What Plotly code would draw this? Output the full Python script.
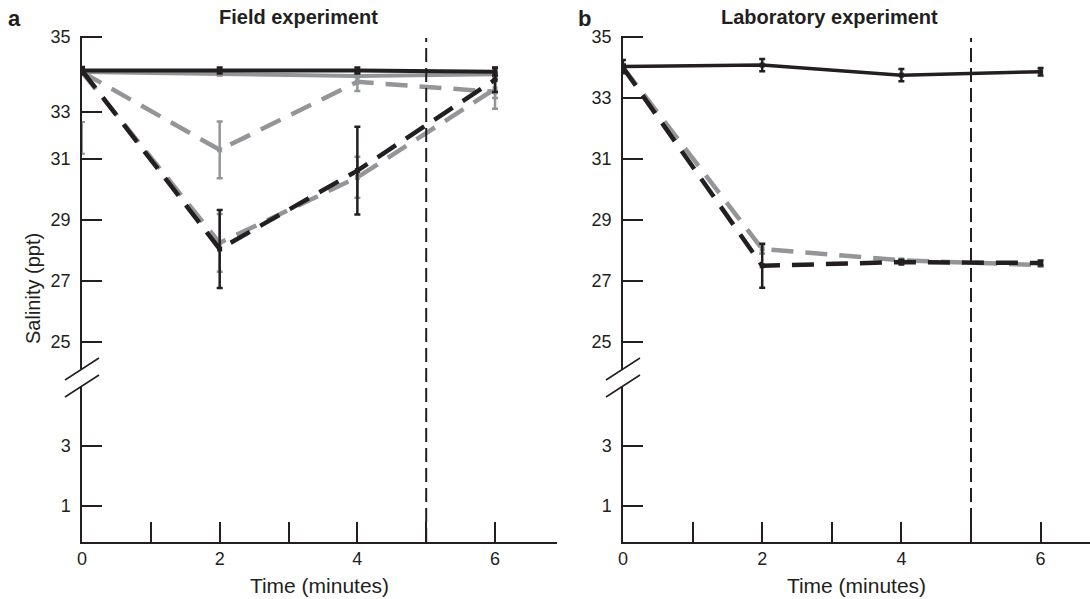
import plotly.graph_objects as go

W, H = 1090, 599
BLACK = "#231f20"
GRAY = "#939598"
FONT = "Liberation Sans, Arial, sans-serif"

# ---------------- data ----------------
time = [0, 2, 4, 6]

# Panel a: Field experiment
field_black_solid = [33.90, 33.90, 33.90, 33.86]
field_black_solid_err = [0.12, 0.10, 0.10, 0.12]
field_gray_solid = [33.85, 33.78, 33.72, 33.78]
field_gray_solid_err = [0.04, 0.04, 0.04, 0.04]
field_gray_dash_upper = [33.85, 31.30, 33.53, 33.20]
field_gray_dash_upper_err = [0.04, 0.93, 0.30, 0.55]
field_black_dash = [33.90, 28.05, 30.62, 33.60]
field_black_dash_err = [0.10, 1.28, 1.44, 0.40]
field_gray_dash_lower = [33.85, 28.25, 30.40, 33.30]
field_gray_dash_lower_err = [0.04, 0.95, 0.67, 0.30]
field_stray_time = [0]
field_stray_val = [31.69]
field_stray_err = [0.52]

# Panel b: Laboratory experiment
lab_black_solid = [34.03, 34.08, 33.75, 33.86]
lab_black_solid_err = [0.22, 0.20, 0.20, 0.12]
lab_black_dash = [34.00, 27.50, 27.62, 27.59]
lab_black_dash_err = [0.10, 0.72, 0.08, 0.08]
lab_gray_dash = [34.00, 28.05, 27.68, 27.52]
lab_gray_dash_err = [0.05, 0.15, 0.05, 0.05]

upper_ticks_a = [35, 32.55, 31, 29, 27, 25]
upper_ticks_b = [35, 33, 31, 29, 27, 25]
upper_ticktext = ["35", "33", "31", "29", "27", "25"]
lower_ticks = [1, 3]
lower_ticktext = ["1", "3"]
x_ticks = [0, 1, 2, 3, 4, 5, 6]
x_ticktext = ["0", "", "2", "", "4", "", "6"]
marker_time = 5


def px(x):
    return x / W


def py(y):
    return 1 - y / H


fig = go.Figure()


def add_series(x, y, err, color, dash, xa, ya, width=4.5):
    fig.add_trace(go.Scatter(
        x=x, y=y, mode="lines+markers", xaxis=xa, yaxis=ya,
        line=dict(color=color, width=width, dash=dash),
        marker=dict(symbol="square", size=5, color=color),
        error_y=dict(type="data", array=err, color=color, thickness=2.5, width=3),
        showlegend=False, hoverinfo="skip"))


# empty traces so the lower (broken) axis segments are drawn
for xa, ya in [("x", "y2"), ("x2", "y4")]:
    fig.add_trace(go.Scatter(x=[None], y=[None], xaxis=xa, yaxis=ya, mode="markers",
                             showlegend=False, hoverinfo="skip"))

DASH = "22px,12px"
# panel a (gray first, black on top)
fig.add_trace(go.Scatter(
    x=field_stray_time, y=field_stray_val, mode="markers", xaxis="x", yaxis="y",
    marker=dict(size=1, color="rgba(0,0,0,0)"),
    error_y=dict(type="data", array=field_stray_err, color=GRAY, thickness=2, width=3),
    showlegend=False, hoverinfo="skip"))
add_series(time, field_gray_dash_upper, field_gray_dash_upper_err, GRAY, DASH, "x", "y")
add_series(time, field_gray_dash_lower, field_gray_dash_lower_err, GRAY, DASH, "x", "y")
add_series(time, field_gray_solid, field_gray_solid_err, GRAY, "solid", "x", "y", 4)
add_series(time, field_black_dash, field_black_dash_err, BLACK, DASH, "x", "y")
add_series(time, field_black_solid, field_black_solid_err, BLACK, "solid", "x", "y", 4)

# panel b
add_series(time, lab_gray_dash, lab_gray_dash_err, GRAY, DASH, "x2", "y3")
add_series(time, lab_black_dash, lab_black_dash_err, BLACK, DASH, "x2", "y3")
add_series(time, lab_black_solid, lab_black_solid_err, BLACK, "solid", "x2", "y3", 3.5)

axis_common = dict(showline=True, linecolor=BLACK, linewidth=1.5, ticks="inside",
                   ticklen=20, tickwidth=1.5, tickcolor=BLACK, showgrid=False,
                   zeroline=False, tickfont=dict(family=FONT, size=18, color=BLACK),
                   fixedrange=True, automargin=False)

up_dom = [py(369), py(36)]
lo_dom = [py(542), py(386)]
up_range = [24.115, 35.033]
lo_range = [-0.2, 5.0]

xtitle = dict(text="Time (minutes)", font=dict(family=FONT, size=21, color=BLACK), standoff=10)

fig.update_layout(
    width=W, height=H, margin=dict(l=0, r=0, t=0, b=0, pad=0, autoexpand=False),
    paper_bgcolor="white", plot_bgcolor="white",
    xaxis=dict(domain=[px(82), px(557)], range=[0, 6.9], anchor="y2",
               tickmode="array", tickvals=x_ticks, ticktext=x_ticktext,
               ticklabelstandoff=0, title=xtitle, **axis_common),
    yaxis=dict(domain=up_dom, range=up_range, anchor="x", tickmode="array",
               tickvals=upper_ticks_a, ticktext=upper_ticktext, ticklabelstandoff=6, **axis_common),
    yaxis2=dict(domain=lo_dom, range=lo_range, anchor="x", tickmode="array",
                tickvals=lower_ticks, ticktext=lower_ticktext, ticklabelstandoff=6, **axis_common),
    xaxis2=dict(domain=[px(623), 1.0], range=[0, 6.71], anchor="y4",
                tickmode="array", tickvals=x_ticks, ticktext=x_ticktext,
                ticklabelstandoff=0, title=xtitle, **axis_common),
    yaxis3=dict(domain=up_dom, range=up_range, anchor="x2", tickmode="array",
                tickvals=upper_ticks_b, ticktext=upper_ticktext, ticklabelstandoff=6, **axis_common),
    yaxis4=dict(domain=lo_dom, range=lo_range, anchor="x2", tickmode="array",
                tickvals=lower_ticks, ticktext=lower_ticktext, ticklabelstandoff=6, **axis_common),
)

shapes = []
for ax_px, xref in [(82, "x"), (623, "x2")]:
    for yc in (369, 386):
        shapes.append(dict(type="line", xref="paper", yref="paper",
                           x0=px(ax_px - 17), y0=py(yc + 11), x1=px(ax_px + 17), y1=py(yc - 11),
                           line=dict(color=BLACK, width=1.5)))
    shapes.append(dict(type="line", xref=xref, yref="paper", x0=marker_time, x1=marker_time,
                       y0=py(542), y1=py(38), line=dict(color=BLACK, width=2, dash="14px,6px")))
fig.update_layout(shapes=shapes)

ann_common = dict(xref="paper", yref="paper", showarrow=False, xanchor="center", yanchor="middle")
annotations = [
    dict(text="<b>a</b>", x=px(14), y=py(19), font=dict(family=FONT, size=22, color=BLACK), **ann_common),
    dict(text="<b>b</b>", x=px(584), y=py(19), font=dict(family=FONT, size=22, color=BLACK), **ann_common),
    dict(text="<b>Field experiment</b>", x=px(298), y=py(17),
         font=dict(family=FONT, size=20, color=BLACK), **ann_common),
    dict(text="<b>Laboratory experiment</b>", x=px(829), y=py(17),
         font=dict(family=FONT, size=20, color=BLACK), **ann_common),
    dict(text="Salinity (ppt)", x=px(33), y=py(289), textangle=-90,
         font=dict(family=FONT, size=20, color=BLACK), **ann_common),
]
fig.update_layout(annotations=annotations)

fig.write_html("out.html")
